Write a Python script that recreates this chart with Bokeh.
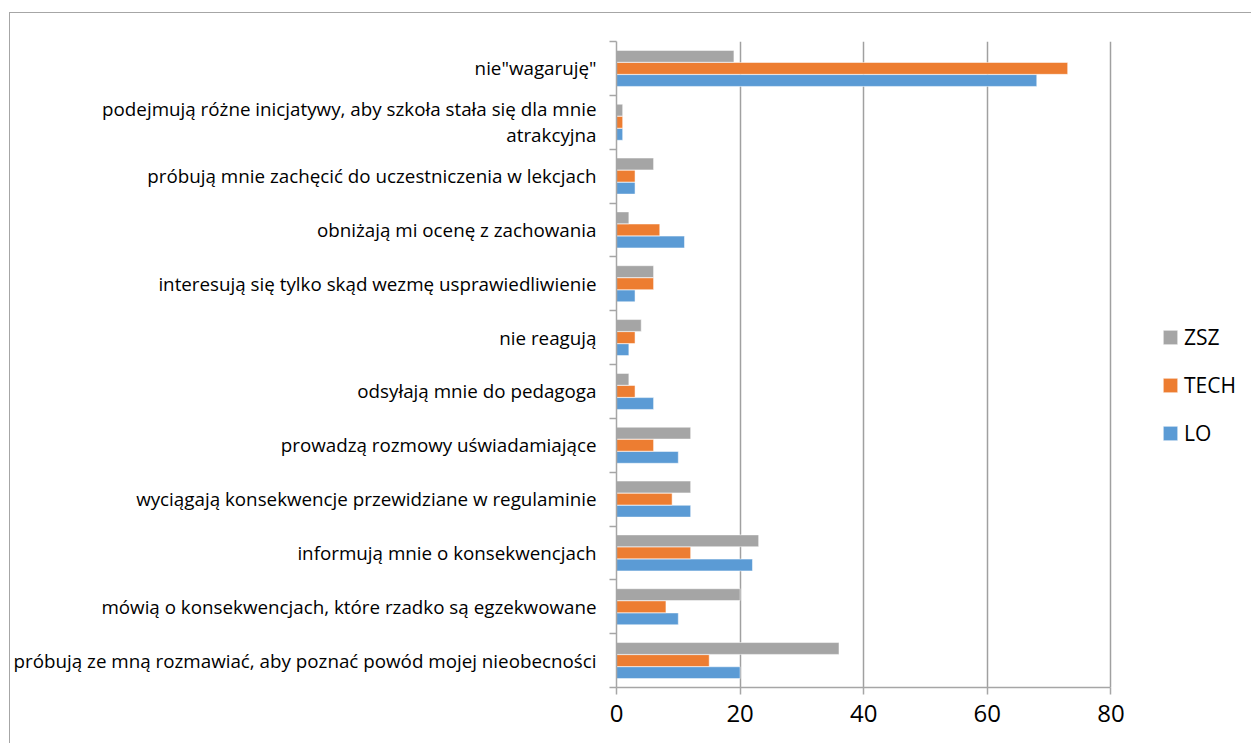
from bokeh.plotting import figure
from bokeh.models import FixedTicker, Legend, LegendItem, ColumnDataSource, Range1d
from bokeh.embed import file_html
from bokeh.resources import INLINE

# categories, bottom to top
categories = [
    "próbują ze mną rozmawiać, aby poznać powód mojej nieobecności",
    "mówią o konsekwencjach, które rzadko są egzekwowane",
    "informują mnie o konsekwencjach",
    "wyciągają konsekwencje przewidziane w regulaminie",
    "prowadzą rozmowy uświadamiające",
    "odsyłają mnie do pedagoga",
    "nie reagują",
    "interesują się tylko skąd wezmę usprawiedliwienie",
    "obniżają mi ocenę z zachowania",
    "próbują mnie zachęcić do uczestniczenia w lekcjach",
    "podejmują różne inicjatywy, aby szkoła stała się dla mnie\natrakcyjna",
    "nie\"wagaruję\"",
]
LO = [20, 10, 22, 12, 10, 6, 2, 3, 11, 3, 1, 68]
TECH = [15, 8, 12, 9, 6, 3, 3, 6, 7, 3, 1, 73]
ZSZ = [36, 20, 23, 12, 12, 2, 4, 6, 2, 6, 1, 19]
x_ticks = [0, 20, 40, 60, 80]

series = [("LO", LO, "#5b9bd5", -0.225), ("TECH", TECH, "#ed7d31", 0.0), ("ZSZ", ZSZ, "#a5a5a5", 0.225)]

FONT = "Open Sans"

# the frame is widened to the right to hold the legend; axis and grid stop at 80
p = figure(width=1242, height=731, output_backend="svg", toolbar_location=None,
           x_range=Range1d(0, 102.58), y_range=Range1d(0, len(categories)),
           min_border_left=604, min_border_right=2, min_border_top=28, min_border_bottom=57,
           styles={"border-left": "1px solid #a6a6a6", "border-top": "1px solid #a6a6a6",
                   "margin-top": "12px", "margin-left": "9px"})
p.outline_line_color = None
p.background_fill_color = "white"
p.border_fill_color = "white"

renderers = {}
for name, vals, color, off in series:
    src = ColumnDataSource(dict(y=[i + 0.5 + off for i in range(len(categories))], v=vals))
    r = p.hbar(y="y", right="v", left=0, height=0.22, source=src, fill_color=color,
               line_color="white", line_alpha=0.5, line_width=1)
    renderers[name] = r

# y axis: labels at category centres, separators as minor ticks
centres = [i + 0.5 for i in range(len(categories))]
yaxis = p.yaxis[0]
yaxis.ticker = FixedTicker(ticks=centres, minor_ticks=list(range(len(categories) + 1)))
yaxis.major_label_overrides = {c: lab for c, lab in zip(centres, categories)}
yaxis.major_tick_line_color = None
yaxis.major_tick_out = 0
yaxis.major_tick_in = 0
yaxis.minor_tick_out = 7
yaxis.minor_tick_in = 0
yaxis.minor_tick_line_color = "#a6a6a6"
yaxis.minor_tick_line_width = 1.5
yaxis.axis_line_color = "#a6a6a6"
yaxis.axis_line_width = 1.5
yaxis.major_label_standoff = 13
yaxis.major_label_text_font = FONT
yaxis.major_label_text_font_size = "18.8px"
yaxis.major_label_text_line_height = 1.0
yaxis.major_label_text_color = "#000000"

xaxis = p.xaxis[0]
xaxis.ticker = FixedTicker(ticks=x_ticks)
xaxis.bounds = (0, 80)
xaxis.minor_tick_line_color = None
xaxis.major_tick_out = 7
xaxis.major_tick_in = 0
xaxis.major_tick_line_color = "#a6a6a6"
xaxis.major_tick_line_width = 1.5
xaxis.axis_line_color = "#a6a6a6"
xaxis.axis_line_width = 1.5
xaxis.major_label_standoff = 10
xaxis.major_label_text_font = FONT
xaxis.major_label_text_font_size = "24px"
xaxis.major_label_text_color = "#000000"

p.ygrid.grid_line_color = None
p.xgrid.grid_line_color = "#a0a0a0"
p.xgrid.grid_line_width = 1.5

legend = Legend(items=[LegendItem(label=n, renderers=[renderers[n]]) for n in ["ZSZ", "TECH", "LO"]],
                location=(545, 240), orientation="vertical")
legend.padding = 0
legend.margin = 0
legend.border_line_color = None
legend.background_fill_alpha = 0
legend.glyph_width = 18
legend.glyph_height = 18
legend.label_height = 25
legend.spacing = 20
legend.label_standoff = 5
legend.label_text_font = FONT
legend.label_text_font_size = "21px"
legend.label_text_color = "#000000"
p.add_layout(legend, "center")

open("out.html", "w").write(file_html(p, INLINE))
